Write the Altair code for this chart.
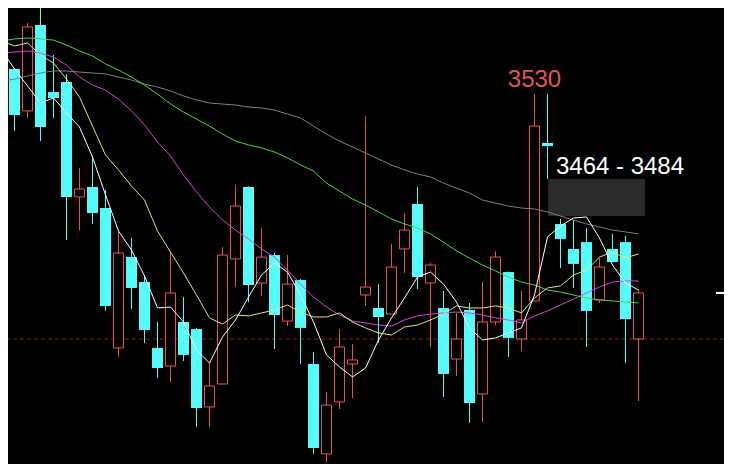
import altair as alt
import pandas as pd

# ---- candle data (index, open, high, low, close) ----
idx = list(range(50))
opens = [3499.7, 3543.5, 3520.8, 3567.2, 3531.0, 3536.4, 3474.3, 3479.7, 3468.3, 3392.7,
         3441.8, 3428.3, 3392.7, 3382.9, 3406.7, 3402.9, 3360.8, 3373.2, 3440.8, 3479.7,
         3427.8, 3442.9, 3407.2, 3429.4, 3384.0, 3335.4, 3363.5, 3384.0, 3421.3, 3414.3,
         3411.0, 3446.2, 3470.5, 3427.8, 3414.3, 3386.7, 3413.2, 3367.8, 3406.7, 3433.7,
         3397.5, 3418.1, 3503.5, 3459.7, 3446.2, 3449.9, 3418.6, 3446.2, 3449.9, 3397.5]
highs = [3529.4, 3544.0, 3568.3, 3584.0, 3551.0, 3540.8, 3489.9, 3496.4, 3478.1, 3455.4,
         3452.1, 3432.1, 3406.7, 3444.5, 3420.2, 3403.5, 3384.5, 3447.2, 3480.8, 3480.0,
         3457.5, 3444.0, 3442.9, 3430.0, 3390.5, 3368.9, 3402.9, 3394.8, 3518.0, 3427.2,
         3448.9, 3465.6, 3479.7, 3438.6, 3423.5, 3411.6, 3417.0, 3428.3, 3445.0, 3434.0,
         3423.5, 3530.0, 3530.0, 3462.4, 3461.8, 3457.5, 3441.3, 3454.3, 3453.2, 3424.5]
lows = [3495.9, 3509.9, 3517.0, 3504.5, 3517.0, 3451.0, 3456.4, 3459.7, 3412.7, 3387.8,
        3413.7, 3395.4, 3376.4, 3374.3, 3385.6, 3350.0, 3350.0, 3373.0, 3425.6, 3417.5,
        3420.8, 3392.1, 3404.5, 3384.0, 3335.4, 3331.0, 3359.7, 3365.6, 3415.4, 3395.4,
        3411.0, 3433.2, 3424.5, 3393.2, 3366.2, 3377.5, 3352.1, 3352.7, 3405.0, 3387.8,
        3391.0, 3418.0, 3484.0, 3435.9, 3425.1, 3393.2, 3417.0, 3439.0, 3384.5, 3364.0]
closes = [3509.9, 3518.6, 3566.2, 3512.1, 3527.8, 3474.3, 3478.6, 3465.6, 3415.4, 3444.0,
          3425.1, 3402.4, 3381.8, 3422.4, 3388.9, 3360.2, 3372.1, 3442.9, 3469.4, 3426.7,
          3441.8, 3410.5, 3427.2, 3403.5, 3338.6, 3361.8, 3393.2, 3386.2, 3425.6, 3409.4,
          3436.4, 3456.4, 3431.0, 3437.5, 3378.6, 3397.5, 3362.9, 3406.7, 3441.8, 3398.1,
          3407.8, 3512.6, 3501.8, 3451.6, 3438.1, 3412.7, 3436.4, 3439.1, 3408.3, 3422.4]

# ---- moving averages ----
ma_white = [3553.7, 3543.5, 3534.3, 3525.1, 3527.8, 3519.7, 3512.1, 3495.9, 3475.4, 3455.9,
            3445.6, 3431.6, 3414.3, 3414.8, 3406.7, 3391.6, 3384.5, 3398.6, 3407.8, 3420.2,
            3432.1, 3438.6, 3433.7, 3421.3, 3406.7, 3388.9, 3382.4, 3377.0, 3381.8, 3397.0,
            3408.9, 3419.7, 3431.0, 3433.7, 3427.2, 3417.5, 3403.5, 3397.0, 3398.1, 3400.8,
            3403.5, 3421.3, 3452.7, 3458.6, 3462.9, 3463.5, 3452.1, 3437.5, 3427.8, 3424.0]
ma_yellow = [3558.6, 3555.9, 3557.5, 3551.0, 3546.7, 3538.0, 3528.3, 3512.6, 3497.0, 3488.9,
             3480.2, 3472.6, 3455.9, 3444.5, 3433.2, 3421.3, 3408.9, 3405.6, 3410.5, 3410.0,
             3411.6, 3413.2, 3415.9, 3412.1, 3409.4, 3409.4, 3411.6, 3406.7, 3403.5, 3400.8,
             3399.7, 3404.0, 3405.1, 3407.8, 3411.0, 3415.4, 3414.3, 3414.3, 3415.4, 3414.3,
             3411.6, 3419.7, 3425.1, 3426.2, 3432.1, 3434.8, 3441.8, 3444.5, 3441.3, 3443.5]
ma_magenta = [3552.1, 3552.6, 3553.2, 3552.1, 3549.9, 3545.6, 3539.1, 3534.8, 3532.1, 3527.2,
              3520.8, 3513.2, 3504.0, 3496.4, 3486.2, 3477.0, 3468.9, 3461.8, 3456.4, 3451.6,
              3446.2, 3441.8, 3434.8, 3427.2, 3420.2, 3414.8, 3410.5, 3407.2, 3406.2, 3405.1,
              3404.5, 3407.8, 3410.0, 3411.0, 3411.6, 3412.1, 3411.6, 3410.5, 3408.9, 3407.8,
              3406.2, 3410.0, 3412.7, 3415.9, 3419.1, 3422.4, 3425.6, 3428.3, 3428.9, 3428.9]
ma_green = [3558.6, 3559.7, 3560.2, 3559.7, 3559.1, 3556.4, 3553.2, 3550.5, 3546.2, 3542.9,
            3539.1, 3534.8, 3529.9, 3524.5, 3520.2, 3516.4, 3512.6, 3508.3, 3504.5, 3502.4,
            3500.8, 3498.6, 3495.4, 3491.6, 3488.3, 3481.8, 3477.5, 3473.2, 3469.9, 3466.2,
            3462.4, 3459.7, 3457.5, 3454.3, 3449.9, 3445.1, 3441.3, 3437.5, 3434.3, 3431.0,
            3428.3, 3426.7, 3424.0, 3422.9, 3421.3, 3419.7, 3418.6, 3418.1, 3417.5, 3417.0]
ma_gray = [3537.0, 3538.0, 3539.7, 3541.3, 3542.4, 3542.4, 3541.8, 3541.3, 3540.8, 3539.1,
           3537.5, 3535.3, 3533.7, 3531.6, 3528.9, 3526.7, 3525.1, 3524.5, 3524.0, 3522.9,
           3522.4, 3521.3, 3519.1, 3517.0, 3512.6, 3508.3, 3504.5, 3501.3, 3498.1, 3494.8,
           3491.6, 3488.9, 3486.7, 3485.1, 3481.8, 3479.1, 3476.4, 3472.6, 3471.0, 3469.4,
           3468.3, 3467.8, 3466.2, 3464.0, 3461.8, 3459.7, 3458.1, 3456.4, 3455.4, 3454.3]

ma_names = ["MA60", "MA30", "MA20", "MA10", "MA5"]
ma_colors = ["#808080", "#4cd83c", "#d944d9", "#e0e67a", "#ffffff"]
ma_series = [ma_gray, ma_green, ma_magenta, ma_yellow, ma_white]

# annotations
high_label = ["3530"]
high_label_idx = [41]
high_label_price = [3530]
low_label = ["3336"]
low_label_idx = [25]
low_label_price = [3331]
zone_label = ["3464 - 3484"]
zone_lo = [3464]
zone_hi = [3484]
zone_idx_start = [42.05]
zone_idx_end = [49.5]
zone_label_idx = [42.65]
ref_price = [3397.5]
last_price = [3422.4]
last_idx_start = [54.96]
last_idx_end = [56.3]

# ---- tables ----
df = pd.DataFrame({"i": idx, "open": opens, "high": highs, "low": lows, "close": closes})
df["top"] = df[["open", "close"]].max(axis=1)
df["bot"] = df[["open", "close"]].min(axis=1)
up = df[df["close"] >= df["open"]]
down = df[df["close"] < df["open"]]

ma_rows = []
for name, series in zip(ma_names, ma_series):
    for i, v in zip(idx, series):
        ma_rows.append({"i": i, "v": v, "ma": name})
ma_df = pd.DataFrame(ma_rows)

xs = alt.Scale(domain=[0.5, 55.577], nice=False, zero=False, padding=0)
ys = alt.Scale(domain=[3329.95, 3576.43], nice=False, zero=False, padding=0)
X = lambda f: alt.X(f, type="quantitative", scale=xs, axis=None)
Y = lambda f: alt.Y(f, type="quantitative", scale=ys, axis=None)

CYAN = "#54fcfc"
RED = "#e8554e"

ref_line = alt.Chart(pd.DataFrame({"p": ref_price})).mark_rule(
    color="#8c2222", strokeWidth=1, strokeDash=[4, 3]
).encode(y=Y("p:Q"))

wick_down = alt.Chart(down).mark_rule(color=CYAN, strokeWidth=1).encode(
    x=X("i:Q"), y=Y("low:Q"), y2="high:Q")
wick_up = alt.Chart(up).mark_rule(color=RED, strokeWidth=1).encode(
    x=X("i:Q"), y=Y("low:Q"), y2="high:Q")
body_down = alt.Chart(down).mark_bar(size=11, color=CYAN).encode(
    x=X("i:Q"), y=Y("bot:Q"), y2="top:Q")
body_up = alt.Chart(up).mark_bar(size=10, fill="black", stroke=RED, strokeWidth=1).encode(
    x=X("i:Q"), y=Y("bot:Q"), y2="top:Q")

zone = alt.Chart(pd.DataFrame({"a": zone_idx_start, "b": zone_idx_end,
                               "lo": zone_lo, "hi": zone_hi})).mark_rect(
    color="#2b2b2b").encode(x=X("a:Q"), x2="b:Q", y=Y("lo:Q"), y2="hi:Q")

lines = alt.Chart(ma_df).mark_line(strokeWidth=1).encode(
    x=X("i:Q"), y=Y("v:Q"),
    color=alt.Color("ma:N", scale=alt.Scale(domain=ma_names, range=ma_colors), legend=None),
    order=alt.Order("i:Q"),
)

last_mark = alt.Chart(pd.DataFrame({"a": last_idx_start, "b": last_idx_end, "p": last_price})).mark_rule(
    color="white", strokeWidth=2).encode(x=X("a:Q"), x2="b:Q", y=Y("p:Q"))

hi_text = alt.Chart(pd.DataFrame({"i": high_label_idx, "p": high_label_price, "t": high_label})).mark_text(
    color="#e8554e", fontSize=24, font="Liberation Sans", align="center", baseline="alphabetic", dy=-7
).encode(x=X("i:Q"), y=Y("p:Q"), text="t:N")

lo_text = alt.Chart(pd.DataFrame({"i": low_label_idx, "p": low_label_price, "t": low_label})).mark_text(
    color=CYAN, fontSize=24, font="Liberation Sans", align="center", baseline="top", dy=6
).encode(x=X("i:Q"), y=Y("p:Q"), text="t:N")

zone_text = alt.Chart(pd.DataFrame({"i": zone_label_idx, "p": zone_hi, "t": zone_label})).mark_text(
    color="white", fontSize=24, font="Liberation Sans", align="left", baseline="alphabetic", dy=-5
).encode(x=X("i:Q"), y=Y("p:Q"), text="t:N")

chart = alt.layer(
    ref_line, wick_down, wick_up, body_down, body_up, zone, lines, last_mark,
    hi_text, lo_text, zone_text
).properties(
    width=716, height=456, padding=0, background="black",
    autosize=alt.AutoSizeParams(type="none"),
).configure_view(stroke=None, fill="black")

chart.save("out.html", embed_options={"renderer": "svg", "actions": False})
